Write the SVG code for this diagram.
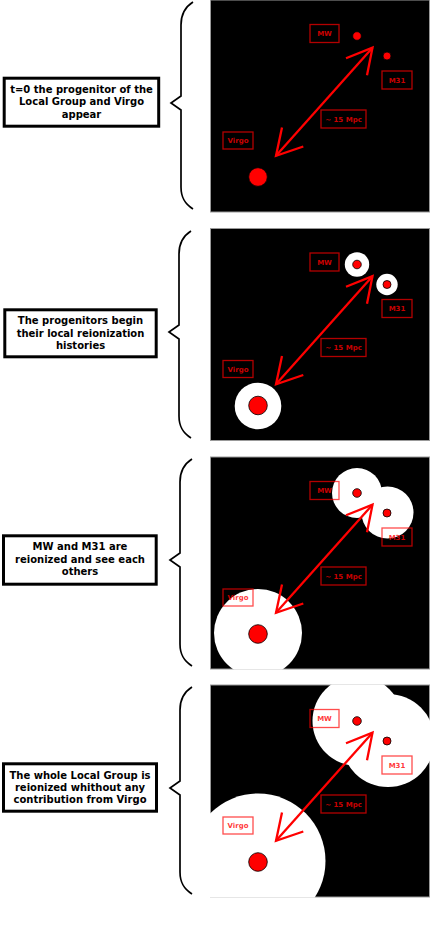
<svg xmlns="http://www.w3.org/2000/svg" width="436" height="926" viewBox="0 0 436 926">
<style>
.bg{fill:#000;stroke:#999;stroke-width:1}
.halo{fill:#fff}
.dot{fill:#f00;stroke:#000;stroke-width:0.8}
.lbl rect{fill:none;stroke:#f00;stroke-opacity:0.7;stroke-width:1.3}
.lbl text{font-family:"DejaVu Sans",sans-serif;font-weight:bold;font-size:7px;fill:#f00;fill-opacity:0.8;text-anchor:middle}
.cap rect{fill:#fff;stroke:#000;stroke-width:3}
.cap text{font-family:"DejaVu Sans",sans-serif;font-weight:bold;font-size:10px;fill:#000;text-anchor:middle}
.brace{fill:none;stroke:#000;stroke-width:1.7}
.arrow{fill:none;stroke:#f00;stroke-width:2.3;stroke-linejoin:miter}
</style>
<defs>
<clipPath id="pc"><rect x="210" y="-0.6" width="220" height="213.2"/></clipPath>
<path id="bracePath" d="M193,2 C185,7 181,14 181,25 L181,96 L171,103 L181,110 L181,187 C181,198 185,204 193,209"/>
<g id="labels">
<g class="lbl"><rect x="310" y="24.5" width="29" height="18"/><text x="324.5" y="36.2">MW</text></g>
<g class="lbl"><rect x="382" y="71" width="30" height="18"/><text x="397" y="82.7">M31</text></g>
<g class="lbl"><rect x="321" y="110" width="45" height="18"/><text x="343.5" y="121.7">~ 15 Mpc</text></g>
<g class="lbl"><rect x="223" y="132" width="30" height="17"/><text x="238" y="143.2">Virgo</text></g>
</g>
<g id="dots">
<circle class="dot" cx="357" cy="36" r="4.3"/>
<circle class="dot" cx="387" cy="56" r="4"/>
<circle class="dot" cx="258" cy="177" r="9.3"/>
</g>
<g id="arr">
<path class="arrow" d="M372.5,47.7 L276,155.8"/>
<path class="arrow" d="M346,58.3 L372.5,47.7 L367,75.3"/>
<path class="arrow" d="M282,127.5 L276,155.8 L303.3,146.5"/>
</g>
</defs>

<!-- Panel 1 -->
<g id="panel1">
<rect class="bg" x="210.5" y="0" width="219" height="212"/>
<use href="#dots"/>
<use href="#labels"/>
</g>
<g id="caption1" class="cap">
<rect x="4.2" y="78.2" width="154.5" height="48"/>
<text x="81.5" y="93">t=0 the progenitor of the</text>
<text x="81.5" y="105.3">Local Group and Virgo</text>
<text x="81.5" y="117.6">appear</text>
</g>
<g id="brace1"><use class="brace" href="#bracePath"/></g>

<!-- Panel 2 -->
<g id="panel2" transform="translate(0,228.5)">
<rect class="bg" x="210.5" y="0" width="219" height="212"/>
<g clip-path="url(#pc)">
<circle class="halo" cx="357" cy="36" r="12.2"/>
<circle class="halo" cx="387" cy="56" r="10.7"/>
<circle class="halo" cx="258" cy="177.5" r="23.3"/>
</g>
<use href="#dots"/>
<use href="#labels"/>
</g>
<g id="caption2" class="cap">
<rect x="4.8" y="309.8" width="151.4" height="47"/>
<text x="80.5" y="324.2">The progenitors begin</text>
<text x="80.5" y="336.5">their local reionization</text>
<text x="80.5" y="348.8">histories</text>
</g>
<g id="brace2" transform="translate(-2,229)"><use class="brace" href="#bracePath"/></g>

<!-- Panel 3 -->
<g id="panel3" transform="translate(0,457)">
<rect class="bg" x="210.5" y="0" width="219" height="212"/>
<g clip-path="url(#pc)">
<circle class="halo" cx="357" cy="36" r="25"/>
<circle class="halo" cx="387.5" cy="55.5" r="26"/>
<circle class="halo" cx="258" cy="176" r="44"/>
</g>
<use href="#dots"/>
<use href="#labels"/>
</g>
<g id="caption3" class="cap">
<rect x="3.5" y="535.8" width="152.7" height="48.4"/>
<text x="80" y="550.3">MW and M31 are</text>
<text x="80" y="562.8">reionized and see each</text>
<text x="80" y="575.2">others</text>
</g>
<g id="brace3" transform="translate(-1,457)"><use class="brace" href="#bracePath"/></g>

<!-- Panel 4 -->
<g id="panel4" transform="translate(0,685)">
<rect class="bg" x="210.5" y="0" width="219" height="212"/>
<g clip-path="url(#pc)">
<circle class="halo" cx="357.5" cy="36" r="45"/>
<circle class="halo" cx="388" cy="55.5" r="46.5"/>
<circle class="halo" cx="258" cy="176" r="67.5"/>
</g>
<use href="#dots"/>
<use href="#labels"/>
</g>
<g id="caption4" class="cap">
<rect x="3.5" y="763.8" width="153" height="47.4"/>
<text x="80" y="778.5">The whole Local Group is</text>
<text x="80" y="790.5">reionized whithout any</text>
<text x="80" y="802.5">contribution from Virgo</text>
</g>
<g id="brace4" transform="translate(-1,685)"><use class="brace" href="#bracePath"/></g>

<!-- Connectors -->
<g id="connectors">
<use href="#arr"/>
<use href="#arr" transform="translate(0,228.5)"/>
<use href="#arr" transform="translate(0,457)"/>
<use href="#arr" transform="translate(0,685)"/>
</g>
</svg>
